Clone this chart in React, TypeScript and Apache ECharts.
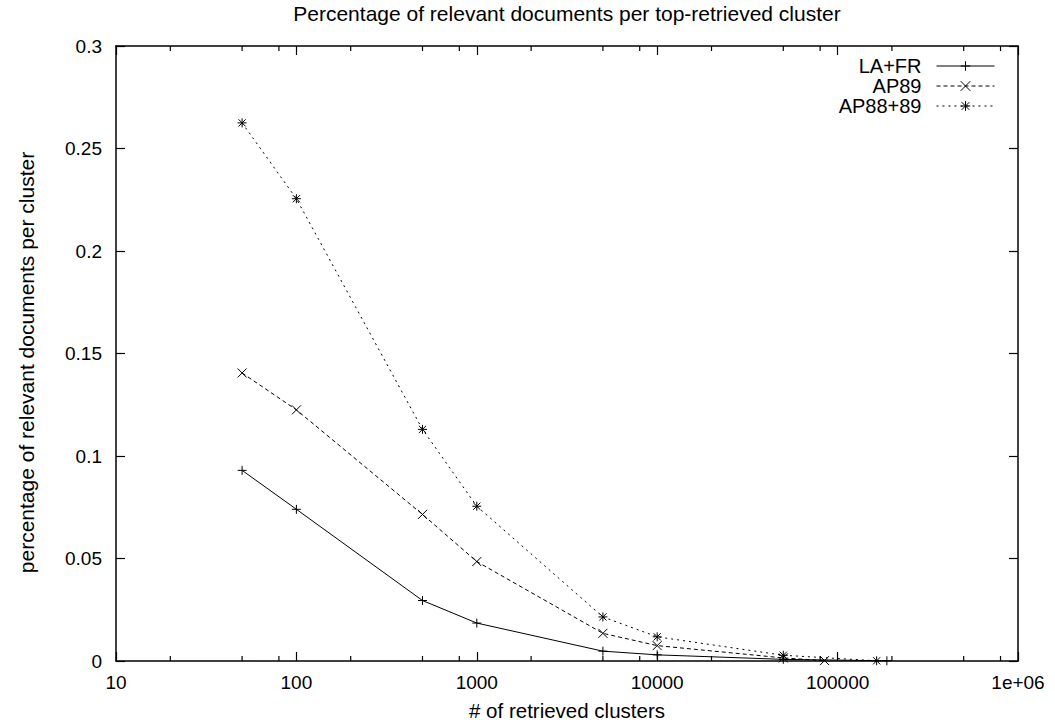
import React, { useEffect, useRef } from "react";
import * as echarts from "echarts";

// ---- data ----
const laFrX = [50, 100, 500, 1000, 5000, 10000, 50000, 187526];
const laFrY = [0.093, 0.074, 0.0295, 0.0185, 0.0048, 0.003, 0.0008, 0.0001];

const ap89X = [50, 100, 500, 1000, 5000, 10000, 50000, 84678];
const ap89Y = [0.1405, 0.1225, 0.0715, 0.0485, 0.0135, 0.0075, 0.0015, 0.0002];

const ap8889X = [50, 100, 500, 1000, 5000, 10000, 50000, 164597];
const ap8889Y = [0.2625, 0.2255, 0.113, 0.0755, 0.0215, 0.0118, 0.0028, 0.0001];

const seriesNames = ["LA+FR", "AP89", "AP88+89"];
const xMin = 10;
const xMax = 1000000;
const yMin = 0;
const yMax = 0.3;
const yStep = 0.05;
const minorTickValues = [
  20, 50, 80, 200, 500, 800, 2000, 5000, 8000, 20000, 50000, 80000, 200000,
  500000, 800000,
];

const titleText = "Percentage of relevant documents per top-retrieved cluster";
const xName = "# of retrieved clusters";
const yName = "percentage of relevant documents per cluster";

const plusSym = "path://M5 0L5 10M0 5L10 5";
const crossSym = "path://M0 0L10 10M10 0L0 10";
const starSym = "path://M5 0L5 10M0 5L10 5M1 1L9 9M9 1L1 9";

const zip = (xs: number[], ys: number[]) => xs.map((x, i) => [x, ys[i]]);

export default function App() {
  const ref = useRef<HTMLDivElement>(null);
  useEffect(() => {
    document.body.style.margin = "0";
    if (!ref.current) return;
    const chart = echarts.init(ref.current, null, { renderer: "svg" });
    const font = "'Liberation Sans', Arial, Helvetica, sans-serif";
    const markStyle = { color: "rgba(0,0,0,0)", borderColor: "#000", borderWidth: 1 };
    const mkSeries = (name: string, data: number[][], sym: string, dash: any) => ({
      name,
      type: "line",
      data,
      xAxisIndex: 0,
      yAxisIndex: 0,
      symbol: sym,
      symbolSize: 9,
      showSymbol: true,
      lineStyle: { color: "#000", width: 1, type: dash },
      itemStyle: markStyle,
      emphasis: { disabled: true },
      z: 3,
    });
    const commonX = {
      type: "log",
      logBase: 10,
      min: xMin,
      max: xMax,
      splitLine: { show: false },
      axisLine: { show: true, onZero: false, lineStyle: { color: "#000", width: 1.5 } },
      axisTick: { show: true, inside: true, length: 9, lineStyle: { color: "#000", width: 1.2 } },
    };
    const commonY = {
      type: "value",
      min: yMin,
      max: yMax,
      interval: yStep,
      splitLine: { show: false },
      axisLine: { show: true, onZero: false, lineStyle: { color: "#000", width: 1.5 } },
      axisTick: { show: true, inside: true, length: 9, lineStyle: { color: "#000", width: 1.2 } },
    };
    chart.setOption({
      animation: false,
      backgroundColor: "#fff",
      textStyle: { fontFamily: font, color: "#000" },
      title: {
        text: titleText,
        left: 567,
        textAlign: "center",
        top: 3,
        padding: 0,
        textStyle: { fontFamily: font, fontSize: 21, fontWeight: "normal", color: "#000" },
      },
      grid: { left: 116, right: 37, top: 46, bottom: 65 },
      legend: {
        data: seriesNames,
        orient: "vertical",
        align: "right",
        right: 60,
        top: 56,
        padding: 0,
        itemWidth: 58,
        itemHeight: 12,
        itemGap: 0,
        selectedMode: false,
        lineStyle: { width: 1 },
        itemStyle: { borderWidth: 1 },
        textStyle: {
          fontFamily: font,
          fontSize: 20,
          lineHeight: 18,
          color: "#000",
          padding: [0, 10, 0, 0],
        },
      },
      xAxis: [
        {
          ...commonX,
          position: "bottom",
          name: xName,
          nameLocation: "middle",
          nameGap: 39,
          nameTextStyle: { fontFamily: font, fontSize: 20.5, color: "#000" },
          axisLabel: {
            fontFamily: font,
            fontSize: 19,
            color: "#000",
            margin: 12,
            formatter: (v: number) => (v >= 1000000 ? "1e+06" : String(Math.round(v))),
          },
        },
        { ...commonX, position: "top", axisLabel: { show: false } },
      ],
      yAxis: [
        {
          ...commonY,
          position: "left",
          name: yName,
          nameLocation: "middle",
          nameGap: 79,
          nameTextStyle: { fontFamily: font, fontSize: 21, color: "#000", padding: [0, 18, 0, 0] },
          axisLabel: {
            fontFamily: font,
            fontSize: 19,
            color: "#000",
            margin: 14,
            formatter: (v: number) => String(+v.toFixed(3)),
          },
        },
        { ...commonY, position: "right", axisLabel: { show: false } },
      ],
      series: [
        mkSeries(seriesNames[0], zip(laFrX, laFrY), plusSym, "solid"),
        mkSeries(seriesNames[1], zip(ap89X, ap89Y), crossSym, [4, 3]),
        mkSeries(seriesNames[2], zip(ap8889X, ap8889Y), starSym, [2, 4]),
        {
          type: "custom",
          name: "minorTicks",
          silent: true,
          xAxisIndex: 0,
          yAxisIndex: 0,
          data: minorTickValues.map((v) => [v, yMin]),
          encode: { x: 0, y: 1 },
          z: 1,
          renderItem: (params: any, api: any) => {
            const v = api.value(0);
            const b = api.coord([v, yMin]);
            const t = api.coord([v, yMax]);
            const st = { stroke: "#000", lineWidth: 1.2 };
            return {
              type: "group",
              children: [
                { type: "line", shape: { x1: b[0], y1: b[1], x2: b[0], y2: b[1] - 5 }, style: st },
                { type: "line", shape: { x1: t[0], y1: t[1], x2: t[0], y2: t[1] + 5 }, style: st },
              ],
            };
          },
        },
      ],
    });
    return () => chart.dispose();
  }, []);
  return <div ref={ref} style={{ width: 1055, height: 726 }} />;
}
